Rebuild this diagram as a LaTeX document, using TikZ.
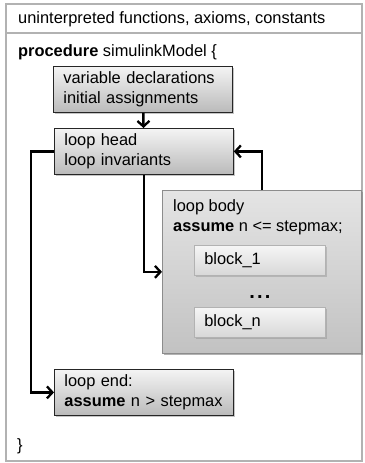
\documentclass[tikz,border=0pt]{standalone}
\usepackage{fontspec}
\setmainfont{Liberation Sans}
\usetikzlibrary{arrows.meta,shadows}
\definecolor{framegray}{HTML}{B2B2B2}
\definecolor{stagetop}{HTML}{F4F4F4}
\definecolor{stagebot}{HTML}{BABABA}
\definecolor{bodytop}{HTML}{E4E4E4}
\definecolor{bodybot}{HTML}{C2C2C2}
\definecolor{blocktop}{HTML}{F6F6F6}
\definecolor{blockbot}{HTML}{D8D8D8}
\tikzset{
  stage/.style={draw=black!85, line width=0.8pt, top color=stagetop, bottom color=stagebot,
    drop shadow={shadow xshift=2pt, shadow yshift=-2pt, opacity=0.45},
    anchor=north west, align=left, inner xsep=10pt, inner ysep=0pt,
    text width=159pt, minimum height=46pt},
  bodybox/.style={draw=black!45, line width=0.7pt, top color=bodytop, bottom color=bodybot,
    drop shadow={shadow xshift=1.5pt, shadow yshift=-1.5pt, opacity=0.6},
    anchor=north west, inner sep=0pt, minimum width=199pt, minimum height=163pt},
  blockbox/.style={draw=black!30, line width=0.7pt, top color=blocktop, bottom color=blockbot,
    drop shadow={shadow xshift=1.5pt, shadow yshift=-1.5pt, opacity=0.35},
    anchor=north west, align=left, inner xsep=10pt, inner ysep=0pt,
    text width=111pt, minimum height=30pt},
  plain/.style={anchor=west, inner sep=0pt, align=left},
  flow/.style={line width=2.5pt, -{Straight Barb[length=5.5pt,width=12pt,line width=2.3pt]}}
}
\begin{document}
\begin{tikzpicture}[x=1pt, y=-1pt, font=\fontsize{16.4}{20}\selectfont]
\useasboundingbox (0,0) rectangle (364,463);

% outer frame: header and procedure body
\draw[framegray, line width=2pt, fill=white] (6,4) rectangle (362,461);
\draw[framegray, line width=2pt] (6,33) -- (362,33);
\node[plain] (header) at (18,19) {uninterpreted functions, axioms, constants};
\node[plain] (proc) at (18,52) {\textbf{procedure} simulinkModel \{};
\node[plain] (close) at (17,446) {\}};

% stages of the procedure
\node[stage] (decl) at (53,66) {variable declarations\\initial assignments};
\node[stage] (head) at (54,128) {loop head\\loop invariants};
\node[bodybox] (body) at (162,190) {};
\node[plain] (bodytext) at (173,217) {loop body\\\textbf{assume} n <= stepmax;};
\node[blockbox] (b1) at (194,245) {block\_1};
\node[font=\fontsize{20}{20}\selectfont\bfseries, inner sep=0pt, anchor=base] (dots) at (260,298.5)
  {.\hspace{2.2pt}.\hspace{2.2pt}.};
\node[blockbox] (bn) at (194,307) {block\_n};
\node[stage] (end) at (54,369) {loop end:\\\textbf{assume} n > stepmax};

% control flow
\draw[flow] (decl) -- (head);
\draw[flow] (head.south) |- (body.west);
\draw[flow] (body.north) |- (head.east);
\draw[flow] (head.west) -- ++(-23,0) |- (end.west);
\end{tikzpicture}
\end{document}
